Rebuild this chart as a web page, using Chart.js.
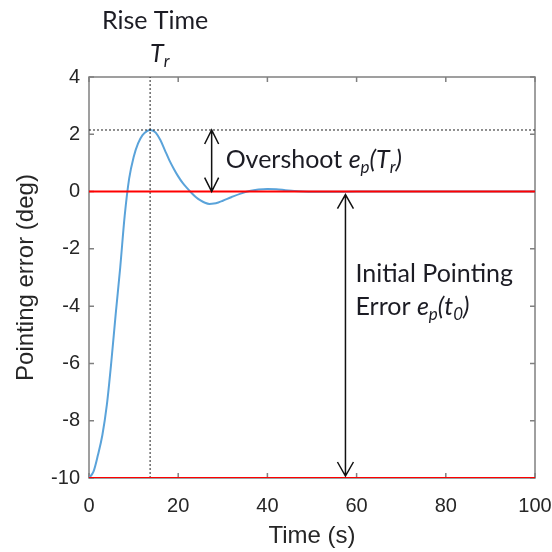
<!DOCTYPE html>
<html>
<head>
<meta charset="utf-8">
<script src="https://cdn.jsdelivr.net/npm/chart.js@4.4.1/dist/chart.umd.min.js"></script>
<style>
  html, body { margin: 0; padding: 0; background: #ffffff; }
  #wrap { width: 552px; height: 552px; }
</style>
</head>
<body>
<div id="wrap"><canvas id="chart" width="552" height="552"></canvas></div>
<script>
// Step response of the pointing loop (seconds, degrees)
const timeS = [0, 1, 2, 3, 4, 5, 6, 7, 8, 9, 10, 11, 12, 13, 13.7, 14.5, 15, 16, 17, 18, 19, 20, 21, 22, 23, 24, 25, 26, 27, 28, 29, 30, 32, 34, 36, 38, 40, 42, 44, 46, 48, 50, 55, 60, 70, 80, 90, 100];
const pointingErr = [-10, -9.78, -9.2, -8.5, -7.45, -5.95, -4.25, -2.65, -0.85, 0.45, 1.2, 1.68, 1.97, 2.11, 2.15, 2.11, 2.05, 1.8, 1.45, 1.1, 0.8, 0.53, 0.3, 0.12, -0.05, -0.2, -0.31, -0.39, -0.43, -0.42, -0.38, -0.32, -0.19, -0.07, 0.02, 0.07, 0.09, 0.08, 0.05, 0.02, 0, -0.01, -0.01, 0, 0, 0, 0, 0];

// Axis ticks
const xTicks = [0, 20, 40, 60, 80, 100];
const yTicks = [-10, -8, -6, -4, -2, 0, 2, 4];

// Annotated quantities
const riseTime = 13.7;        // T_r
const overshootVal = 2.15;    // e_p(T_r)
const initialErr = -10;       // e_p(t_0)
const finalErr = 0;
const overshootArrowT = 27.5;
const initialArrowT = 57.5;

const TEXT_FONT = 'Lato, "Open Sans", sans-serif';
const AXIS_FONT = '"Liberation Sans", Arial, sans-serif';
const TEXT_SIZE = 25;

function drawRich(ctx, x, y, segs, size, align) {
  // segs: {t, it, sub}
  const fontOf = s => (s.it ? 'italic ' : '') + (s.sub ? Math.round(size * 0.68) : size) + 'px ' + TEXT_FONT;
  let total = 0;
  segs.forEach(s => { ctx.font = fontOf(s); total += ctx.measureText(s.t).width; });
  let cx = align === 'center' ? x - total / 2 : x;
  ctx.textAlign = 'left';
  ctx.textBaseline = 'alphabetic';
  segs.forEach(s => {
    ctx.font = fontOf(s);
    ctx.fillText(s.t, cx, y + (s.sub ? size * 0.2 : 0));
    cx += ctx.measureText(s.t).width;
  });
}

function drawArrow(ctx, x, yTop, yBot, len, half) {
  ctx.beginPath();
  ctx.moveTo(x, yTop); ctx.lineTo(x, yBot);
  ctx.moveTo(x - half, yTop + len); ctx.lineTo(x, yTop); ctx.lineTo(x + half, yTop + len);
  ctx.moveTo(x - half, yBot - len); ctx.lineTo(x, yBot); ctx.lineTo(x + half, yBot - len);
  ctx.stroke();
}

const framePlugin = {
  id: 'frame',
  beforeDatasetsDraw(chart) {
    const { ctx, chartArea: a, scales: { x, y } } = chart;
    ctx.save();
    ctx.strokeStyle = '#808080';
    ctx.lineWidth = 1.5;
    ctx.strokeRect(a.left, a.top, a.right - a.left, a.bottom - a.top);
    ctx.beginPath();
    xTicks.forEach(v => {
      const px = x.getPixelForValue(v);
      ctx.moveTo(px, a.bottom); ctx.lineTo(px, a.bottom - 5);
      ctx.moveTo(px, a.top); ctx.lineTo(px, a.top + 5);
    });
    yTicks.forEach(v => {
      const py = y.getPixelForValue(v);
      ctx.moveTo(a.left, py); ctx.lineTo(a.left + 5, py);
      ctx.moveTo(a.right, py); ctx.lineTo(a.right - 5, py);
    });
    ctx.stroke();
    ctx.restore();
  },
  afterDatasetsDraw(chart) {
    const { ctx, chartArea: a, scales: { x, y } } = chart;
    ctx.save();
    ctx.strokeStyle = '#111111';
    ctx.lineWidth = 1.5;
    drawArrow(ctx, x.getPixelForValue(overshootArrowT), y.getPixelForValue(overshootVal), y.getPixelForValue(finalErr), 14, 7);
    drawArrow(ctx, x.getPixelForValue(initialArrowT), y.getPixelForValue(finalErr) + 3, y.getPixelForValue(initialErr) - 2, 14, 8);

    ctx.fillStyle = '#1c1c24';
    const trX = x.getPixelForValue(riseTime);
    drawRich(ctx, trX + 5, a.top - 48, [{ t: 'Rise Time' }], TEXT_SIZE, 'center');
    drawRich(ctx, trX, a.top - 15, [{ t: 'T', it: true }, { t: 'r', it: true, sub: true }], TEXT_SIZE, 'left');

    const ovX = x.getPixelForValue(overshootArrowT) + 14;
    const ovY = (y.getPixelForValue(overshootVal) + y.getPixelForValue(finalErr)) / 2 + 7;
    drawRich(ctx, ovX, ovY, [
      { t: 'Overshoot ' }, { t: 'e', it: true }, { t: 'p', it: true, sub: true },
      { t: '(', it: true }, { t: 'T', it: true }, { t: 'r', it: true, sub: true }, { t: ')', it: true }
    ], TEXT_SIZE, 'left');

    const inX = x.getPixelForValue(initialArrowT) + 10;
    const inY = y.getPixelForValue(finalErr) + 90;
    drawRich(ctx, inX, inY, [{ t: 'Initial Pointing' }], TEXT_SIZE, 'left');
    drawRich(ctx, inX, inY + 33, [
      { t: 'Error ' }, { t: 'e', it: true }, { t: 'p', it: true, sub: true },
      { t: '(', it: true }, { t: 't', it: true }, { t: '0', it: true, sub: true }, { t: ')', it: true }
    ], TEXT_SIZE, 'left');
    ctx.restore();
  }
};

const seg = (x0, y0, x1, y1) => [{ x: x0, y: y0 }, { x: x1, y: y1 }];

new Chart(document.getElementById('chart'), {
  type: 'line',
  data: {
    datasets: [
      {
        data: seg(0, finalErr, 100, finalErr),
        borderColor: '#ff0000', borderWidth: 2, pointRadius: 0, order: 0
      },
      {
        data: seg(0, initialErr, 100, initialErr),
        borderColor: '#ff0000', borderWidth: 2, pointRadius: 0, order: 0
      },
      {
        data: seg(0, overshootVal, 100, overshootVal),
        borderColor: '#222222', borderWidth: 1, borderDash: [2, 2], pointRadius: 0, order: 1
      },
      {
        data: seg(riseTime, -10, riseTime, 4),
        borderColor: '#222222', borderWidth: 1, borderDash: [2, 2], pointRadius: 0, order: 1
      },
      {
        data: timeS.map((t, i) => ({ x: t, y: pointingErr[i] })),
        borderColor: '#5aa3da', borderWidth: 2, pointRadius: 0,
        cubicInterpolationMode: 'monotone', order: 2
      }
    ]
  },
  options: {
    responsive: false,
    animation: false,
    events: [],
    layout: { padding: { top: 77, right: 17, left: 0, bottom: 0 } },
    plugins: { legend: { display: false }, tooltip: { enabled: false } },
    scales: {
      x: {
        type: 'linear', min: 0, max: 100,
        afterBuildTicks: s => { s.ticks = xTicks.map(v => ({ value: v })); },
        afterFit: s => { s.height = 74; s.paddingLeft = 0; s.paddingRight = 0; },
        grid: { display: false, drawTicks: false },
        border: { display: false },
        ticks: { color: '#262626', font: { family: AXIS_FONT, size: 20 }, padding: 16, maxRotation: 0 },
        title: { display: true, text: 'Time (s)', color: '#262626', font: { family: AXIS_FONT, size: 24 }, padding: { top: 0, bottom: 1 } }
      },
      y: {
        type: 'linear', min: -10, max: 4,
        afterBuildTicks: s => { s.ticks = yTicks.map(v => ({ value: v })); },
        afterFit: s => { s.width = 89; s.paddingTop = 0; s.paddingBottom = 0; },
        grid: { display: false, drawTicks: false },
        border: { display: false },
        ticks: { color: '#262626', font: { family: AXIS_FONT, size: 20 }, padding: 9 },
        title: { display: true, text: 'Pointing error (deg)', color: '#262626', font: { family: AXIS_FONT, size: 24 }, padding: { top: 12, bottom: 0 } }
      }
    }
  },
  plugins: [framePlugin]
});
</script>
</body>
</html>
